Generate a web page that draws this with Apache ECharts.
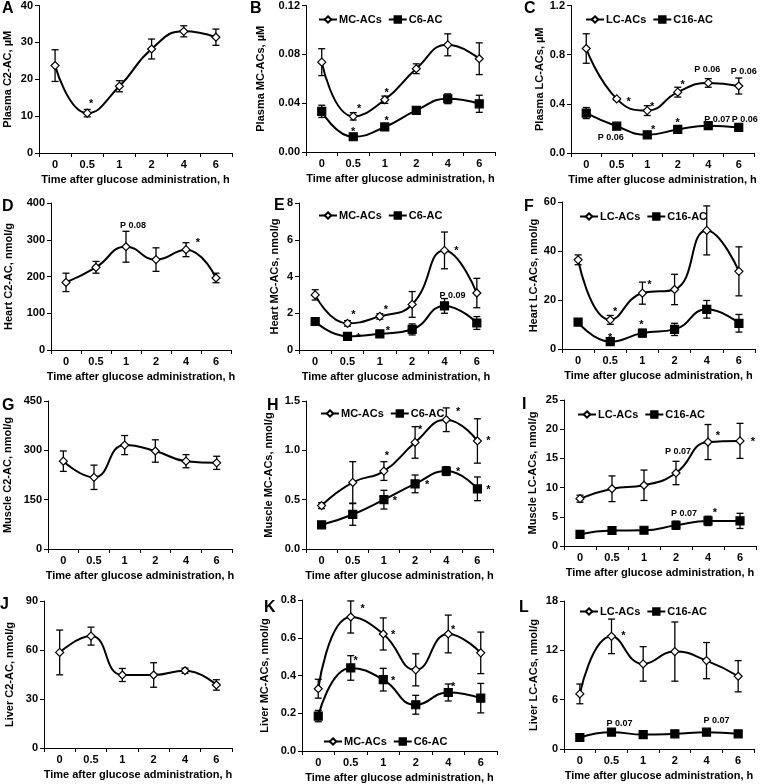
<!DOCTYPE html>
<html><head><meta charset="utf-8">
<script src="https://cdn.jsdelivr.net/npm/echarts@6/dist/echarts.min.js"></script>
<style>html,body{margin:0;padding:0;background:#fff}#c{width:760px;height:784px}</style>
</head><body><div id="c"></div>
<script>
// ---------- DATA ----------
const categories = ['0', '0.5', '1', '2', '4', '6'];
const xName = 'Time after glucose administration, h';

// A Plasma C2
const plasmaC2 = [23.7, 10.8, 18.1, 28.2, 33.0, 31.4];
const plasmaC2Err = [4.3, 1.0, 1.5, 2.7, 1.5, 2.2];
// B Plasma MC / C6
const plasmaMC = [0.0736, 0.0292, 0.0428, 0.0682, 0.0878, 0.0764];
const plasmaMCErr = [0.011, 0.003, 0.003, 0.004, 0.009, 0.013];
const plasmaC6 = [0.0333, 0.0125, 0.0205, 0.0341, 0.0436, 0.0395];
const plasmaC6Err = [0.005, 0.001, 0.001, 0.001, 0.004, 0.007];
// C Plasma LC / C16
const plasmaLC = [0.85, 0.44, 0.345, 0.495, 0.57, 0.545];
const plasmaLCErr = [0.12, 0.01, 0.04, 0.04, 0.035, 0.065];
const plasmaC16 = [0.325, 0.218, 0.148, 0.192, 0.222, 0.208];
const plasmaC16Err = [0.045, 0.01, 0.012, 0.012, 0.015, 0.022];
// D Heart C2
const heartC2 = [184, 225, 281, 246, 273, 196];
const heartC2Err = [25, 16, 42, 32, 19, 13];
// E Heart MC / C6
const heartMC = [3.0, 1.45, 1.83, 2.48, 5.42, 3.1];
const heartMCErr = [0.28, 0.15, 0.15, 0.7, 1.0, 0.8];
const heartC6 = [1.55, 0.74, 0.88, 1.12, 2.4, 1.47];
const heartC6Err = [0.08, 0.08, 0.08, 0.3, 0.4, 0.35];
// F Heart LC / C16
const heartLC = [36.4, 11.9, 22.8, 24.3, 48.4, 31.7];
const heartLCErr = [2.0, 1.8, 4.5, 6.2, 10.0, 10.0];
const heartC16 = [11.0, 3.0, 6.5, 8.0, 16.2, 10.5];
const heartC16Err = [0.6, 0.8, 1.5, 2.5, 3.6, 3.6];
// G Muscle C2
const muscleC2 = [267, 218, 316, 298, 267, 262];
const muscleC2Err = [31, 37, 29, 34, 20, 20];
// H Muscle MC / C6
const muscleMC = [0.44, 0.675, 0.79, 1.08, 1.31, 1.095];
const muscleMCErr = [0.03, 0.21, 0.095, 0.16, 0.12, 0.225];
const muscleC6 = [0.245, 0.35, 0.5, 0.66, 0.79, 0.61];
const muscleC6Err = [0.01, 0.11, 0.095, 0.09, 0.045, 0.12];
// I Muscle LC / C16
const muscleLC = [8.1, 9.8, 10.4, 12.5, 17.8, 18.0];
const muscleLCErr = [0.6, 2.2, 2.6, 2.0, 3.0, 3.0];
const muscleC16 = [2.0, 2.65, 2.7, 3.55, 4.3, 4.3];
const muscleC16Err = [0.12, 0.4, 0.3, 0.7, 0.8, 1.3];
// J Liver C2
const liverC2 = [58.5, 68.5, 44.7, 44.7, 47.3, 38.6];
const liverC2Err = [13.7, 5.5, 4.0, 7.5, 1.6, 3.2];
// K Liver MC / C6
const liverMC = [0.33, 0.71, 0.62, 0.43, 0.62, 0.52];
const liverMCErr = [0.05, 0.085, 0.085, 0.085, 0.1, 0.11];
const liverC6 = [0.185, 0.44, 0.378, 0.245, 0.31, 0.28];
const liverC6Err = [0.03, 0.065, 0.06, 0.05, 0.045, 0.078];
// L Liver LC / C16
const liverLC = [6.7, 13.7, 10.35, 11.85, 10.75, 8.85];
const liverLCErr = [1.2, 2.1, 2.1, 3.6, 2.2, 1.9];
const liverC16 = [1.4, 2.05, 1.75, 1.85, 2.05, 1.85];
const liverC16Err = [0.1, 0.1, 0.1, 0.1, 0.1, 0.1];

// Significance annotations: [panel, series, category index, text]
const annotations = [
  [0,0,1,'*'],
  [1,0,1,'*'],[1,0,2,'*'],[1,1,1,'*'],[1,1,2,'*'],
  [2,0,1,'*'],[2,0,2,'*'],[2,0,3,'*'],[2,0,4,'P 0.06'],[2,0,5,'P 0.06'],
  [2,1,1,'P 0.06'],[2,1,2,'*'],[2,1,3,'*'],[2,1,4,'P 0.07'],[2,1,5,'P 0.06'],
  [3,0,2,'P 0.08'],[3,0,4,'*'],
  [4,0,1,'*'],[4,0,2,'*'],[4,0,4,'*'],[4,1,1,'*'],[4,1,2,'*'],[4,1,4,'P 0.09'],
  [5,0,1,'*'],[5,0,2,'*'],[5,1,1,'*'],[5,1,2,'*'],
  [7,0,2,'*'],[7,0,3,'*'],[7,0,4,'*'],[7,0,5,'*'],[7,1,2,'*'],[7,1,3,'*'],[7,1,4,'*'],[7,1,5,'*'],
  [8,0,3,'P 0.07'],[8,0,4,'*'],[8,0,5,'*'],[8,1,3,'P 0.07'],[8,1,4,'*'],
  [10,0,1,'*'],[10,0,2,'*'],[10,0,4,'*'],[10,1,1,'*'],[10,1,2,'*'],[10,1,4,'*'],
  [11,0,1,'*'],[11,1,1,'P 0.07'],[11,1,4,'P 0.07']
];
// pixel offsets of each annotation from its point (same order as above)
const annOffsets = [
  [4,-12],
  [6,-10],[2,-10],[0,-8],[2,-9],
  [12,0],[5,-7],[5,-10],[-1,-13],[5,-14],
  [-6,11],[6,-8],[0,-9],[9,-6],[6,-8],
  [7,-21],[12,-10],
  [6,-11],[6,-9],[12,-2],[11,-1],[8,-6],[8,-10],
  [5,-11],[7,-11],[0,-7],[-1,-11],
  [3,-18],[5,-15],[12,-11],[11,-3],[11,-2],[12,-2],[12,-2],[11,-2],
  [2,-21],[10,-9],[13,-2],[8,-12],[7,-11],
  [12,-11],[10,-2],[5,-7],[5,-10],[10,-2],[5,-9],
  [12,-3],[8,-9],[10,-12]
];

const panels = [
  {letter:'A', yName:'Plasma C2-AC, µM', max:40, interval:10, dec:0, series:[['C2-AC',plasmaC2,plasmaC2Err]]},
  {letter:'B', yName:'Plasma MC-ACs, µM', max:0.12, interval:0.04, dec:2, series:[['MC-ACs',plasmaMC,plasmaMCErr],['C6-AC',plasmaC6,plasmaC6Err]]},
  {letter:'C', yName:'Plasma LC-ACs, µM', max:1.2, interval:0.4, dec:1, series:[['LC-ACs',plasmaLC,plasmaLCErr],['C16-AC',plasmaC16,plasmaC16Err]]},
  {letter:'D', yName:'Heart C2-AC, nmol/g', max:400, interval:100, dec:0, series:[['C2-AC',heartC2,heartC2Err]]},
  {letter:'E', yName:'Heart MC-ACs, nmol/g', max:8, interval:2, dec:0, series:[['MC-ACs',heartMC,heartMCErr],['C6-AC',heartC6,heartC6Err]]},
  {letter:'F', yName:'Heart LC-ACs, nmol/g', max:60, interval:20, dec:0, series:[['LC-ACs',heartLC,heartLCErr],['C16-AC',heartC16,heartC16Err]]},
  {letter:'G', yName:'Muscle C2-AC, nmol/g', max:450, interval:150, dec:0, series:[['C2-AC',muscleC2,muscleC2Err]]},
  {letter:'H', yName:'Muscle MC-ACs, nmol/g', max:1.5, interval:0.5, dec:1, series:[['MC-ACs',muscleMC,muscleMCErr],['C6-AC',muscleC6,muscleC6Err]]},
  {letter:'I', yName:'Muscle LC-ACs, nmol/g', max:25, interval:5, dec:0, series:[['LC-ACs',muscleLC,muscleLCErr],['C16-AC',muscleC16,muscleC16Err]]},
  {letter:'J', yName:'Liver C2-AC, nmol/g', max:90, interval:30, dec:0, series:[['C2-AC',liverC2,liverC2Err]]},
  {letter:'K', yName:'Liver MC-ACs, nmol/g', max:0.8, interval:0.2, dec:1, series:[['MC-ACs',liverMC,liverMCErr],['C6-AC',liverC6,liverC6Err]]},
  {letter:'L', yName:'Liver LC-ACs, nmol/g', max:18, interval:6, dec:0, series:[['LC-ACs',liverLC,liverLCErr],['C16-AC',liverC16,liverC16Err]]}
];

// ---------- LAYOUT ----------
// [x0, x1, y0(top), y1(bottom)], y-name gap, letter centre, legend [left, top]
const layout = [
  {box:[39,232,5,153],  gap:26, letter:[8,9],   legend:null},
  {box:[306,495,5,152], gap:40, letter:[256,9], legend:[313,9]},
  {box:[571,754,5,153], gap:26, letter:[530,9], legend:[580,9]},
  {box:[51,231,203,350],gap:37, letter:[8,207], legend:null},
  {box:[299,493,203,350],gap:19,letter:[280,206],legend:[313,205]},
  {box:[562,755,202,349],gap:22,letter:[530,207],legend:[574,206]},
  {box:[48,232,401,549],gap:35, letter:[8,406], legend:null},
  {box:[306,493,401,549],gap:32,letter:[273,406],legend:[315,403]},
  {box:[564,756,400,546],gap:26,letter:[528,405],legend:[572,404]},
  {box:[44,232,601,748],gap:29, letter:[6,605], legend:null},
  {box:[302,497,600,751],gap:32,letter:[270,608],legend:[318,731]},
  {box:[564,754,601,749],gap:25,letter:[525,608],legend:[574,601]}
];

const FONT = '"Liberation Sans", Arial, sans-serif';
const txt = {color:'#000', fontFamily:FONT, fontWeight:'bold', fontSize:11};

const option = {animation:false, backgroundColor:'#fff', grid:[], xAxis:[], yAxis:[], series:[], legend:[], graphic:[]};

function errRender(params, api) {
  const x = api.value(0);
  const lo = api.coord([x, api.value(1)]);
  const hi = api.coord([x, api.value(2)]);
  const w = 3.5, st = {stroke:'#000', lineWidth:1.3};
  return {type:'group', children:[
    {type:'line', shape:{x1:lo[0],y1:lo[1],x2:hi[0],y2:hi[1]}, style:st},
    {type:'line', shape:{x1:hi[0]-w,y1:hi[1],x2:hi[0]+w,y2:hi[1]}, style:st},
    {type:'line', shape:{x1:lo[0]-w,y1:lo[1],x2:lo[0]+w,y2:lo[1]}, style:st}
  ]};
}

panels.forEach((p, i) => {
  const L = layout[i];
  const [x0,x1,y0,y1] = L.box;
  option.grid.push({left:x0, top:y0, width:x1-x0, height:y1-y0, containLabel:false});
  option.xAxis.push({
    type:'category', gridIndex:i, data:categories, boundaryGap:true,
    axisLine:{lineStyle:{color:'#000', width:1}},
    axisTick:{show:true, length:4, lineStyle:{color:'#000'}},
    axisLabel:Object.assign({margin:6}, txt),
    name:xName, nameLocation:'middle', nameGap:21, nameTextStyle:txt
  });
  option.yAxis.push({
    type:'value', gridIndex:i, min:0, max:p.max, interval:p.interval,
    axisLine:{show:true, lineStyle:{color:'#000', width:1}},
    axisTick:{show:true, length:4, lineStyle:{color:'#000'}},
    splitLine:{show:false},
    axisLabel:Object.assign({margin:6, formatter:v => Number(v).toFixed(p.dec)}, txt),
    name:p.yName, nameLocation:'middle', nameRotate:90, nameGap:L.gap, nameTextStyle:txt
  });
  p.series.forEach((s, k) => {
    const [name, vals, errs] = s;
    option.series.push({
      type:'custom', xAxisIndex:i, yAxisIndex:i, z:2, silent:true,
      renderItem:errRender, encode:{x:0, y:[1,2]},
      data:vals.map((v, j) => [j, v - errs[j], v + errs[j]])
    });
    option.series.push({
      type:'line', name:name, xAxisIndex:i, yAxisIndex:i, z:3,
      data:vals, smooth:0.5,
      symbol:k === 0 ? 'diamond' : 'rect', symbolSize:8,
      showAllSymbol:true,
      lineStyle:{color:'#000', width:2},
      itemStyle:{color:k === 0 ? '#fff' : '#000', borderColor:'#000', borderWidth:1.2},
      emphasis:{disabled:true}
    });
  });
  // annotations for this panel
  const anns = [];
  annotations.forEach((a, idx) => {
    if (a[0] === i) {
      const vals = p.series[a[1]][1];
      anns.push({cat:a[2], val:vals[a[2]], text:a[3], off:annOffsets[idx]});
    }
  });
  if (anns.length) {
    option.series.push({
      type:'custom', xAxisIndex:i, yAxisIndex:i, z:5, silent:true,
      data:anns.map((a, j) => [a.cat, a.val, j]),
      encode:{x:0, y:1},
      renderItem:(params, api) => {
        const a = anns[params.dataIndex];
        const pt = api.coord([a.cat, a.val]);
        const star = a.text === '*';
        return {type:'text', x:pt[0] + a.off[0], y:pt[1] + a.off[1] + (star ? 3 : 0),
          style:{text:a.text, fill:'#000', font:'bold ' + (star ? 11 : 9) + 'px ' + FONT,
            align:'center', verticalAlign:'middle'}};
      }
    });
  }
  if (L.legend) {
    option.legend.push({
      left:L.legend[0], top:L.legend[1], orient:'horizontal',
      itemWidth:18, itemHeight:8, itemGap:6, selectedMode:false,
      data:p.series.map(s => s[0]),
      textStyle:{color:'#000', fontFamily:FONT, fontWeight:'bold', fontSize:11, padding:[0,0,0,-3]}
    });
  }
  option.graphic.push({type:'text', left:L.letter[0] - 6, top:L.letter[1] - 8,
    style:{text:p.letter, fill:'#000', font:'bold 16px ' + FONT}});
});

const chart = echarts.init(document.getElementById('c'), null, {renderer:'canvas'});
chart.setOption(option);
</script>
</body></html>
